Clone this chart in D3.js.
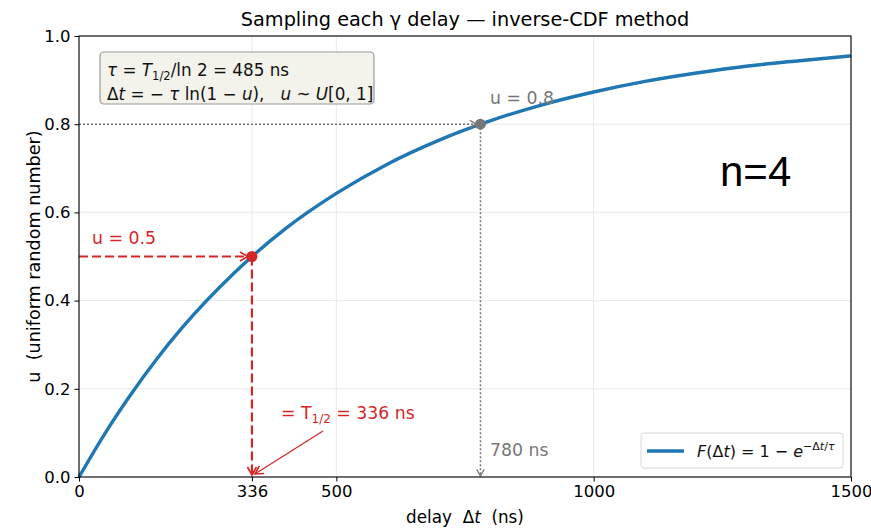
<!DOCTYPE html>
<html>
<head>
<meta charset="utf-8">
<script src="https://cdn.jsdelivr.net/npm/d3@7"></script>
<style>
  body { margin: 0; background: #fff; }
  svg { display: block; font-family: "DejaVu Sans", sans-serif; }
  svg text { white-space: pre; }
</style>
</head>
<body>
<svg id="chart" width="871" height="529"></svg>
<script>
// ---- data ----
const tau = 485;                       // ns
const halfLife = 336;                  // ns
const sampleHigh = 780;                // ns
const uHalf = 0.5;
const uHigh = 0.8;
const curveT = [0, 50, 100, 150, 200, 300, 400, 500, 600, 700, 800, 900, 1000, 1100, 1200, 1300, 1400, 1500];
const curveU = [0, 0.098, 0.186, 0.266, 0.338, 0.461, 0.562, 0.643, 0.710, 0.764, 0.808, 0.844, 0.873, 0.897, 0.916, 0.932, 0.944, 0.955];
const xTicks = [0, 336, 500, 1000, 1500];
const yTicks = [0, 0.2, 0.4, 0.6, 0.8, 1.0];

// ---- layout ----
const svg = d3.select("#chart");
const m = { left: 79, right: 851, top: 36, bottom: 477 };
const x = d3.scaleLinear().domain([0, 1500]).range([m.left, m.right]);
const y = d3.scaleLinear().domain([0, 1]).range([m.bottom, m.top]);
const RED = "#d62728", BLUE = "#1f77b4", GRAY = "#777777";

// defs for arrow markers
const defs = svg.append("defs");
function marker(id, color, size) {
  defs.append("marker").attr("id", id)
    .attr("viewBox", "-10 -6 12 12").attr("refX", 0).attr("refY", 0)
    .attr("markerWidth", size).attr("markerHeight", size)
    .attr("markerUnits", "userSpaceOnUse").attr("orient", "auto")
    .append("path").attr("d", "M-8,-4.5 L0,0 L-8,4.5")
    .attr("fill", "none").attr("stroke", color).attr("stroke-width", 1.6);
}
marker("arRed", RED, 12);
marker("arGray", GRAY, 10);
marker("arThin", RED, 12);

// grid
const g = svg.append("g");
g.selectAll(".gx").data(xTicks).enter().append("line")
  .attr("x1", d => x(d)).attr("x2", d => x(d)).attr("y1", m.top).attr("y2", m.bottom)
  .attr("stroke", "#e6e6e6").attr("stroke-width", 0.9);
g.selectAll(".gy").data(yTicks).enter().append("line")
  .attr("x1", m.left).attr("x2", m.right).attr("y1", d => y(d)).attr("y2", d => y(d))
  .attr("stroke", "#e6e6e6").attr("stroke-width", 0.9);

// curve
const pts = curveT.map((t, i) => [t, curveU[i]]);
svg.append("path").datum(pts)
  .attr("d", d3.line().x(d => x(d[0])).y(d => y(d[1])).curve(d3.curveMonotoneX))
  .attr("fill", "none").attr("stroke", BLUE).attr("stroke-width", 3.4);

// gray dotted guides (u=0.8)
svg.append("line").attr("x1", x(0)).attr("x2", x(sampleHigh) - 4).attr("y1", y(uHigh)).attr("y2", y(uHigh))
  .attr("stroke", GRAY).attr("stroke-width", 1.5).attr("stroke-dasharray", "2,2")
  .attr("marker-end", "url(#arGray)");
svg.append("line").attr("x1", x(sampleHigh)).attr("x2", x(sampleHigh)).attr("y1", y(uHigh)).attr("y2", y(0) - 1)
  .attr("stroke", GRAY).attr("stroke-width", 1.5).attr("stroke-dasharray", "2,2")
  .attr("marker-end", "url(#arGray)");
svg.append("circle").attr("cx", x(sampleHigh)).attr("cy", y(uHigh)).attr("r", 5.5).attr("fill", GRAY);

// red dashed guides (u=0.5)
svg.append("line").attr("x1", x(0)).attr("x2", x(halfLife) - 4).attr("y1", y(uHalf)).attr("y2", y(uHalf))
  .attr("stroke", RED).attr("stroke-width", 2.2).attr("stroke-dasharray", "9,4")
  .attr("marker-end", "url(#arRed)");
svg.append("line").attr("x1", x(halfLife)).attr("x2", x(halfLife)).attr("y1", y(uHalf)).attr("y2", y(0) - 2)
  .attr("stroke", RED).attr("stroke-width", 2.2).attr("stroke-dasharray", "9,4")
  .attr("marker-end", "url(#arRed)");
svg.append("circle").attr("cx", x(halfLife)).attr("cy", y(uHalf)).attr("r", 5.5).attr("fill", RED);

// thin red annotation arrow
svg.append("line").attr("x1", 323).attr("x2", x(halfLife) + 3).attr("y1", 431).attr("y2", y(0) - 3)
  .attr("stroke", RED).attr("stroke-width", 1.3).attr("marker-end", "url(#arThin)");

// annotation texts
const AF = 17.3;
svg.append("text").attr("x", 92).attr("y", 244).attr("fill", RED).attr("font-size", AF).text("u = 0.5");
svg.append("text").attr("x", 490).attr("y", 104).attr("fill", GRAY).attr("font-size", AF).text("u = 0.8");
svg.append("text").attr("x", 490).attr("y", 456).attr("fill", GRAY).attr("font-size", AF).text("780 ns");
const tHalf = svg.append("text").attr("x", 281).attr("y", 419).attr("fill", RED).attr("font-size", AF);
tHalf.append("tspan").text("= T");
tHalf.append("tspan").attr("font-size", 12).attr("dy", 4).text("1/2");
tHalf.append("tspan").attr("dy", -4).text(" = 336 ns");

// n=4
svg.append("text").attr("x", 720).attr("y", 186).attr("font-family", "'Liberation Sans', Arial, sans-serif")
  .attr("font-size", 42).attr("fill", "#000").text("n=4");

// formula box
svg.append("rect").attr("x", 100).attr("y", 52).attr("width", 274).attr("height", 52).attr("rx", 4)
  .attr("fill", "#f3f3ec").attr("stroke", "#999").attr("stroke-width", 1.2);
const l1 = svg.append("text").attr("x", 107).attr("y", 76).attr("font-size", 16.8).attr("fill", "#111");
l1.append("tspan").attr("font-style", "italic").text("τ");
l1.append("tspan").text(" = ");
l1.append("tspan").attr("font-style", "italic").text("T");
l1.append("tspan").attr("font-size", 11.5).attr("dy", 4).text("1/2");
l1.append("tspan").attr("dy", -4).text("/ln 2 = 485 ns");
const l2 = svg.append("text").attr("x", 107).attr("y", 100).attr("font-size", 16.8).attr("fill", "#111");
l2.append("tspan").text("Δ");
l2.append("tspan").attr("font-style", "italic").text("t");
l2.append("tspan").text(" = − ");
l2.append("tspan").attr("font-style", "italic").text("τ");
l2.append("tspan").text(" ln(1 − ");
l2.append("tspan").attr("font-style", "italic").text("u");
l2.append("tspan").text("),   ");
l2.append("tspan").attr("font-style", "italic").text("u");
l2.append("tspan").text(" ~ ");
l2.append("tspan").attr("font-style", "italic").text("U");
l2.append("tspan").text("[0, 1]");

// axes
const xAxis = svg.append("g").attr("transform", `translate(0,${m.bottom})`)
  .call(d3.axisBottom(x).tickValues(xTicks).tickFormat(d3.format("d")).tickSize(4.5).tickPadding(4));
const yAxis = svg.append("g").attr("transform", `translate(${m.left},0)`)
  .call(d3.axisLeft(y).tickValues(yTicks).tickFormat(d3.format(".1f")).tickSize(4.5).tickPadding(4));
[xAxis, yAxis].forEach(a => {
  a.select(".domain").remove();
  a.selectAll("text").attr("font-size", 16.5).attr("fill", "#000").attr("font-family", "DejaVu Sans");
  a.selectAll("line").attr("stroke", "#000").attr("stroke-width", 1);
});
// frame
svg.append("rect").attr("x", m.left).attr("y", m.top).attr("width", m.right - m.left).attr("height", m.bottom - m.top)
  .attr("fill", "none").attr("stroke", "#000").attr("stroke-width", 1.1);

// legend
svg.append("rect").attr("x", 641).attr("y", 433).attr("width", 202).attr("height", 35).attr("rx", 3)
  .attr("fill", "#fff").attr("fill-opacity", 0.85).attr("stroke", "#d6d6d6").attr("stroke-width", 1);
svg.append("line").attr("x1", 647).attr("x2", 684).attr("y1", 451).attr("y2", 451)
  .attr("stroke", BLUE).attr("stroke-width", 3.4);
const lg = svg.append("text").attr("x", 697).attr("y", 457).attr("font-size", 16).attr("fill", "#111");
lg.append("tspan").attr("font-style", "italic").text("F");
lg.append("tspan").text("(Δ");
lg.append("tspan").attr("font-style", "italic").text("t");
lg.append("tspan").text(") = 1 − ");
lg.append("tspan").attr("font-style", "italic").text("e");
lg.append("tspan").attr("font-size", 11).attr("dy", -7).text("−Δ");
lg.append("tspan").attr("font-size", 11).attr("font-style", "italic").text("t");
lg.append("tspan").attr("font-size", 11).text("/");
lg.append("tspan").attr("font-size", 11).attr("font-style", "italic").text("τ");

// title & axis labels
svg.append("text").attr("x", (m.left + m.right) / 2).attr("y", 26).attr("text-anchor", "middle")
  .attr("font-size", 19.3).attr("fill", "#000").text("Sampling each γ delay — inverse-CDF method");
const xl = svg.append("text").attr("x", (m.left + m.right) / 2).attr("y", 523).attr("text-anchor", "middle")
  .attr("font-size", 16.8).attr("fill", "#000");
xl.append("tspan").text("delay  Δ");
xl.append("tspan").attr("font-style", "italic").text("t");
xl.append("tspan").text("  (ns)");
svg.append("text").attr("transform", `translate(40,${(m.top + m.bottom) / 2}) rotate(-90)`)
  .attr("text-anchor", "middle").attr("font-size", 17.6).attr("fill", "#000")
  .text("u  (uniform random number)");
</script>
</body>
</html>
